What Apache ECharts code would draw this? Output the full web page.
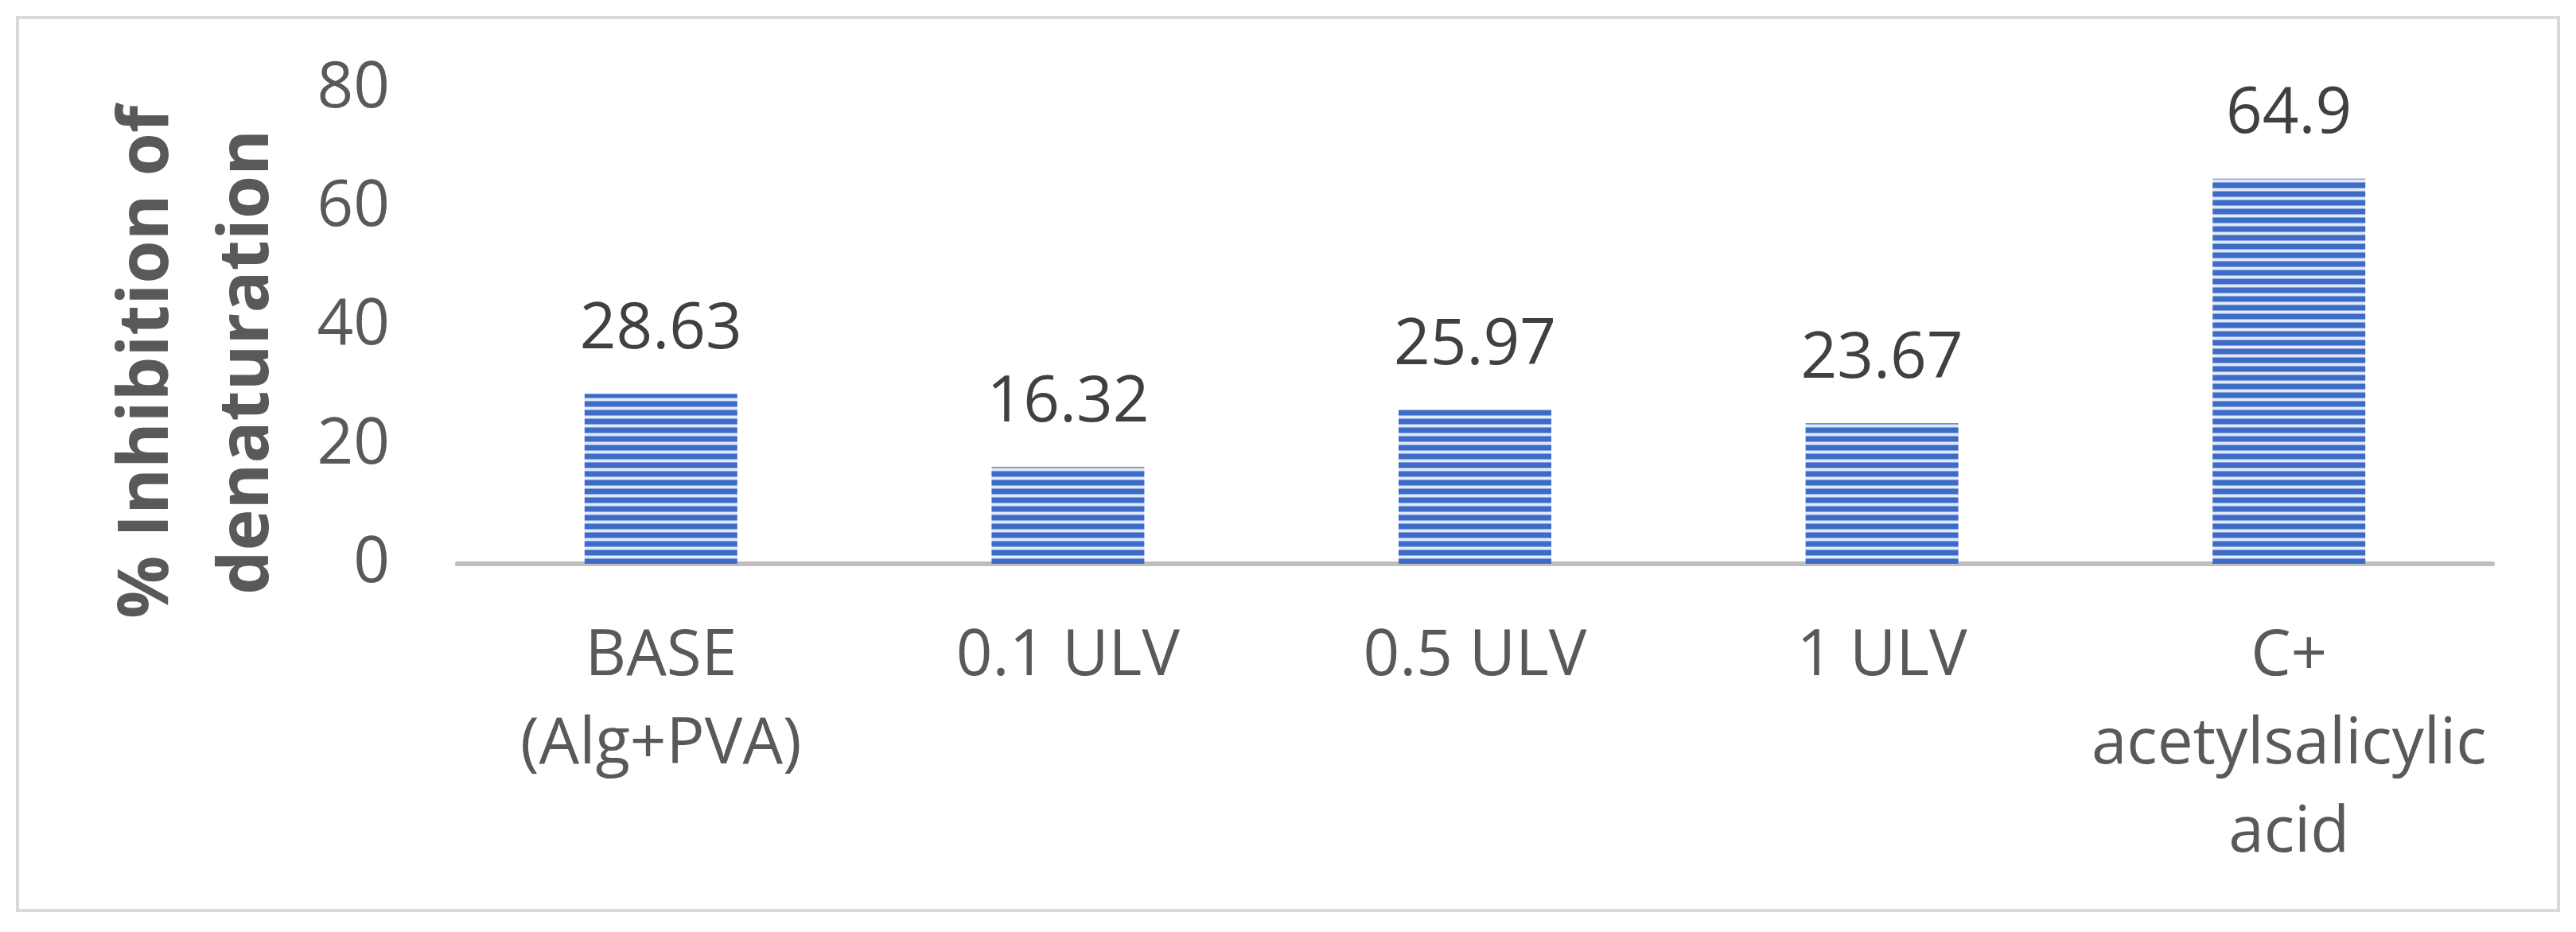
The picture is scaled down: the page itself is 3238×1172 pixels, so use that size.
<!DOCTYPE html>
<html>
<head>
<meta charset="utf-8">
<script src="https://cdn.jsdelivr.net/npm/echarts@6/dist/echarts.min.js"></script>
<style>
  html, body { margin: 0; padding: 0; background: #ffffff; }
  #chart { width: 3238px; height: 1172px; }
</style>
</head>
<body>
<div id="chart"></div>
<script>
const categories = ['BASE\n(Alg+PVA)', '0.1 ULV', '0.5 ULV', '1 ULV', 'C+\nacetylsalicylic\nacid'];
const values = [28.63, 16.32, 25.97, 23.67, 64.9];
const valueLabels = ['28.63', '16.32', '25.97', '23.67', '64.9'];
const yTicks = [0, 20, 40, 60, 80];
const yTitle = '% Inhibition of\ndenaturation';

// horizontal stripe pattern for the bars
const pat = document.createElement('canvas');
pat.width = 8; pat.height = 11;
const pc = pat.getContext('2d');
pc.fillStyle = '#3d6cc6'; pc.fillRect(0, 0, 8, 11);
pc.fillStyle = '#88a6e3'; pc.fillRect(0, 5, 8, 1);
pc.fillStyle = '#e2e9f7'; pc.fillRect(0, 6, 8, 3);
pc.fillStyle = '#88a6e3'; pc.fillRect(0, 9, 8, 1);

const FONT = '"Open Sans", "Noto Sans", sans-serif';
const chart = echarts.init(document.getElementById('chart'), null, { renderer: 'canvas' });
chart.setOption({
  backgroundColor: '#ffffff',
  animation: false,
  graphic: [{
    type: 'rect', z: -1,
    shape: { x: 22, y: 22, width: 3194, height: 1123 },
    style: { fill: '#ffffff', stroke: '#d9d9d9', lineWidth: 4 }
  }],
  grid: { left: 575, right: 105, top: 112, bottom: 463, containLabel: false },
  xAxis: {
    type: 'category',
    data: categories,
    axisLine: { show: true, lineStyle: { color: '#bfbfbf', width: 6 } },
    axisTick: { show: false },
    axisLabel: {
      interval: 0, margin: 62,
      fontFamily: FONT, fontSize: 80, lineHeight: 111, color: '#595959', align: 'center'
    },
    splitLine: { show: false }
  },
  yAxis: {
    type: 'value',
    min: yTicks[0], max: yTicks[yTicks.length - 1], interval: 20,
    name: yTitle,
    nameLocation: 'middle',
    nameRotate: 90,
    nameGap: 200,
    nameTextStyle: {
      fontFamily: FONT, fontSize: 88, fontWeight: 'bold', color: '#595959',
      lineHeight: 126, padding: [0, 90, 0, 0]
    },
    axisLine: { show: false },
    axisTick: { show: false },
    splitLine: { show: false },
    axisLabel: { margin: 85, fontFamily: FONT, fontSize: 80, color: '#595959' }
  },
  series: [{
    type: 'bar',
    data: values,
    barWidth: 192,
    itemStyle: { color: { image: pat, repeat: 'repeat' } },
    label: {
      show: true, position: 'top', distance: 40,
      fontFamily: FONT, fontSize: 80, color: '#404040',
      formatter: p => valueLabels[p.dataIndex]
    }
  }]
});
</script>
</body>
</html>
